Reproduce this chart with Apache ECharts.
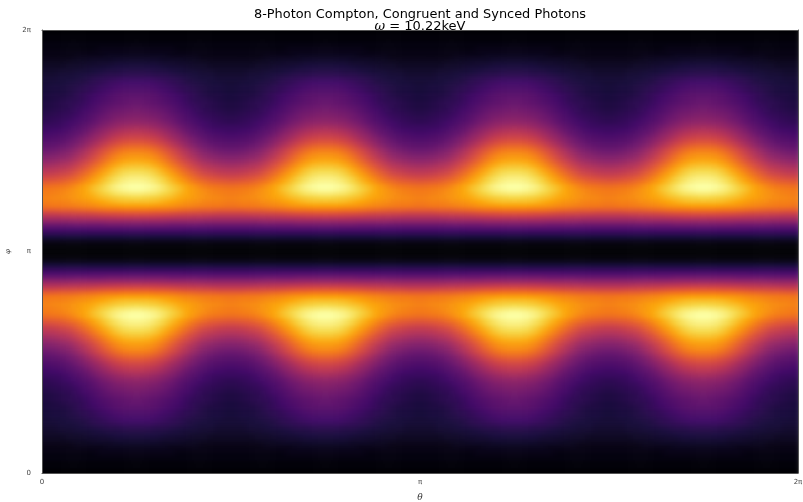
<!DOCTYPE html>
<html><head><meta charset="utf-8">
<style>html,body{margin:0;padding:0;background:#fff;overflow:hidden}#c{width:803px;height:502px}</style>
<script src="https://cdn.jsdelivr.net/npm/echarts@6/dist/echarts.min.js"></script>
</head><body><div id="c"></div>
<svg width="0" height="0" style="position:absolute"><filter id="soft" x="0" y="0" width="100%" height="100%" color-interpolation-filters="sRGB"><feGaussianBlur stdDeviation="3.5 1.8" edgeMode="duplicate"/></filter></svg>
<script>
var titleText = "8-Photon Compton, Congruent and Synced Photons";
var omegaText = "10.22keV";
var piTickLabels = ["0", "π", "2π"];
var infernoStops = ["#000004","#160b39","#420a68","#6a176e","#932667","#bc3754","#dd513a","#f37819","#fca50a","#f6d746","#fcffa4"];
// Intensity, 0-100. Each row runs from a valley (left) to the next lobe peak (right);
// rows run from the top edge (2π) down to the centre line (π).
var valleyToPeakRows = [
[0,0,0,0,0,0,0,0,0,0,0,0],
[1,1,1,1,1,1,1,1,1,1,1,1],
[1,1,1,1,1,1,1,1,1,1,1,1],
[2,2,2,2,2,2,2,2,2,2,2,2],
[2,2,2,2,2,2,2,3,3,3,3,3],
[3,3,3,3,3,3,3,4,4,4,4,4],
[3,3,3,3,4,4,4,4,5,5,5,5],
[4,4,4,4,5,5,6,6,6,7,7,7],
[5,5,5,6,6,7,7,8,8,9,9,9],
[6,6,6,7,7,8,9,9,10,11,11,11],
[7,7,8,8,9,9,10,11,12,12,13,13],
[8,8,9,9,10,11,12,13,14,14,15,15],
[9,9,10,10,11,12,14,15,16,17,18,18],
[9,10,10,11,12,13,15,16,18,19,20,20],
[10,11,11,12,13,15,16,18,19,21,22,22],
[10,11,11,12,14,15,17,19,21,23,24,24],
[11,12,12,13,15,17,19,21,23,25,26,26],
[11,12,13,14,15,17,20,22,24,26,27,28],
[12,13,14,15,16,18,21,23,25,27,28,29],
[12,13,14,15,17,19,22,25,27,29,30,31],
[13,14,15,16,18,21,23,26,29,31,32,33],
[14,15,16,17,19,22,25,28,31,33,34,35],
[15,16,17,18,21,23,26,30,32,35,36,37],
[16,17,18,20,22,25,28,32,35,38,39,40],
[18,18,19,21,24,27,31,35,38,41,43,44],
[19,20,21,23,26,29,34,38,42,45,47,48],
[21,22,23,25,28,32,37,41,45,49,51,52],
[23,24,25,27,31,35,40,44,49,53,55,56],
[25,26,27,30,33,38,43,48,53,57,60,61],
[27,28,30,32,36,41,47,52,58,62,65,66],
[30,31,33,35,40,45,51,57,62,67,70,71],
[33,34,36,38,43,48,54,60,66,71,74,75],
[36,37,39,41,46,51,57,63,69,74,77,78],
[40,41,43,45,50,55,61,67,73,78,81,82],
[44,45,47,49,54,59,65,71,77,82,85,86],
[48,49,51,53,58,63,69,75,81,86,89,90],
[52,53,55,57,62,67,73,79,84,89,92,93],
[57,58,60,62,66,71,77,82,88,92,95,96],
[62,63,64,67,70,75,80,85,90,94,97,98],
[67,68,69,71,75,79,84,88,93,97,99,100],
[70,71,72,74,77,80,85,89,93,96,98,99],
[71,72,73,75,77,80,83,87,90,93,94,95],
[72,73,74,75,77,79,81,84,86,88,89,90],
[71,72,72,73,75,76,78,80,82,84,85,85],
[69,70,70,71,72,73,74,76,77,78,79,79],
[63,63,64,64,65,66,67,68,69,69,70,70],
[54,54,55,55,56,56,57,58,59,59,60,60],
[46,46,46,47,47,48,48,49,49,50,50,50],
[38,38,38,38,39,39,39,39,40,40,40,40],
[29,29,29,29,30,30,30,30,31,31,31,31],
[22,22,22,22,22,22,23,23,23,23,23,23],
[16,16,16,16,16,16,16,16,16,16,16,16],
[10,10,10,10,10,10,10,10,10,10,10,10],
[4,4,4,4,4,4,4,4,4,4,4,4],
[1,1,1,1,1,1,1,1,1,1,1,1],
[0,0,0,0,0,0,0,0,0,0,0,0]
];
var lobeCount = 4;

var nHalf = valleyToPeakRows.length, nEach = valleyToPeakRows[0].length;
var pad = 2;                                  // extra cells past the frame so the soft edge stays outside it
var nCols = nEach * 2 * lobeCount + pad * 2, nRows = nHalf * 2;
var xCats = [], yCats = [], cells = [], period = nEach * 2;
for (var i = 0; i < nCols; i++) xCats.push(i);
for (var j = 0; j < nRows + pad * 2; j++) yCats.push(j);
for (var r = 0; r < nRows; r++) {
  var row = valleyToPeakRows[r < nHalf ? r : nRows - 1 - r];
  for (var c = 0; c < nCols; c++) {
    var k = (c - pad + period) % period;
    cells.push([c, nRows - 1 - r + pad, row[k < nEach ? k : period - 1 - k]]);
  }
}
for (var p = 0; p < pad; p++) for (var q = 0; q < nCols; q++) {
  cells.push([q, p, 0]);
  cells.push([q, nRows + pad + p, 0]);
}
var plot = {l:42, r:5, t:30, b:29, w:756, h:443};
var cw = plot.w / (nCols - pad * 2), ch = plot.h / nRows;
var font = "DejaVu Sans";
var frame = {lineStyle:{color:"#555555",width:1}};
function edgeAxis(pos, extra) {
  var a = {type:"value",gridIndex:1,position:pos,min:0,max:2,interval:1,zlevel:1,splitLine:{show:false},
    axisTick:{show:false},axisLine:Object.assign({show:true,onZero:false},frame),
    axisLabel:{show:false}};
  return Object.assign(a, extra || {});
}
var tickFmt = function (v) { return piTickLabels[v]; };
var chart = echarts.init(document.getElementById("c"), null, {renderer:"canvas"});
chart.setOption({
  animation:false,
  title:[
    {text:titleText,left:415,top:3,textAlign:"center",zlevel:1,textStyle:{fontFamily:font,fontSize:12.9,fontWeight:"normal",color:"#000"}},
    {text:"{w|ω} = "+omegaText,left:415,top:15,textAlign:"center",zlevel:1,
     textStyle:{fontFamily:font,fontSize:13,fontWeight:"normal",color:"#000",
       rich:{w:{fontFamily:"DejaVu Serif",fontStyle:"italic",fontSize:13,color:"#000"}}}}
  ],
  grid:[
    {left:plot.l-pad*cw,right:plot.r-pad*cw,top:plot.t-pad*ch,bottom:plot.b-pad*ch,outerBoundsMode:"none"},
    {left:plot.l,right:plot.r,top:plot.t,bottom:plot.b,outerBoundsMode:"none"}
  ],
  visualMap:{show:false,type:"continuous",min:0,max:100,seriesIndex:0,inRange:{color:infernoStops}},
  xAxis:[
    {type:"category",data:xCats,show:false,boundaryGap:true,gridIndex:0},
    edgeAxis("bottom",{name:"θ",nameLocation:"middle",nameGap:20,
      nameTextStyle:{fontFamily:"DejaVu Serif",fontStyle:"italic",fontSize:9,color:"#333"},
      axisLabel:{show:true,formatter:tickFmt,margin:6,fontSize:7,fontFamily:font,color:"#444",hideOverlap:false,showMinLabel:true,showMaxLabel:true}}),
    edgeAxis("top")
  ],
  yAxis:[
    {type:"category",data:yCats,show:false,boundaryGap:true,gridIndex:0},
    edgeAxis("left",{name:"φ",nameLocation:"middle",nameGap:30,nameRotate:90,
      nameTextStyle:{fontFamily:"DejaVu Serif",fontStyle:"italic",fontSize:7,color:"#333"},
      axisLabel:{show:true,formatter:tickFmt,margin:11,fontSize:7,fontFamily:font,color:"#444",hideOverlap:false,showMinLabel:true,showMaxLabel:true}}),
    edgeAxis("right")
  ],
  series:[{type:"heatmap",data:cells,xAxisIndex:0,yAxisIndex:0,silent:true,progressive:0,zlevel:0,
    itemStyle:{borderWidth:0},emphasis:{disabled:true}}]
});
var base = document.querySelector('#c canvas[data-zr-dom-id="zr_0"]');
if (base) {
  base.style.filter = "url(#soft)";
  base.style.clipPath = "inset(" + plot.t + "px " + plot.r + "px " + plot.b + "px " + plot.l + "px)";
}
</script></body></html>
